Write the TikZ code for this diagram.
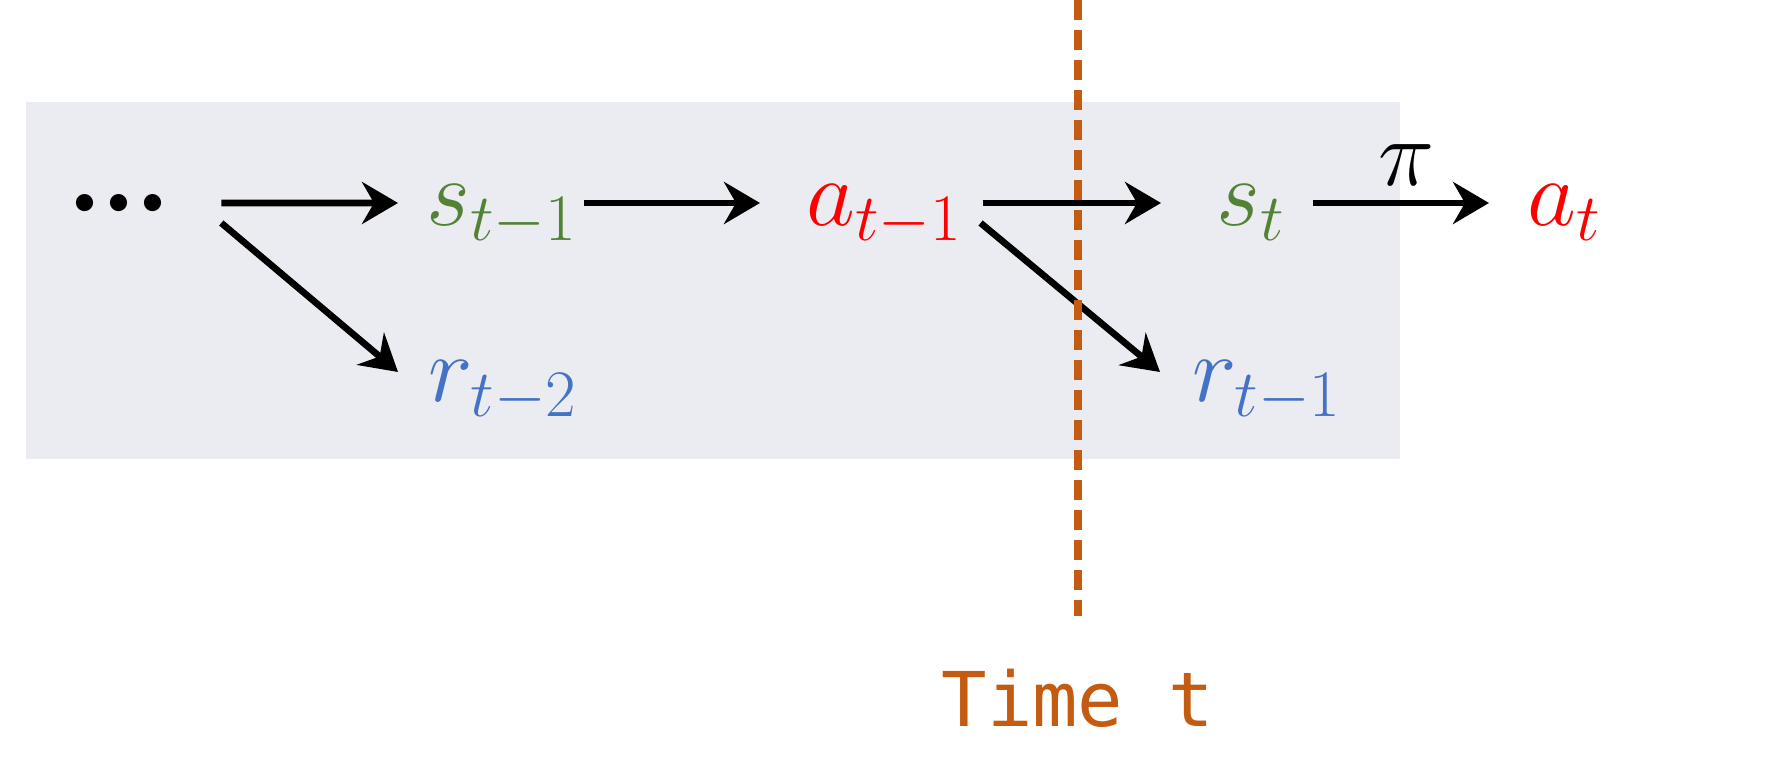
\RequirePackage{fix-cm}
\documentclass[tikz,border=0pt]{standalone}
\usepackage{fontspec}
\usepackage{tikz}
\usetikzlibrary{arrows.meta}

\definecolor{stategreen}{HTML}{548235}
\definecolor{actionred}{HTML}{FF0000}
\definecolor{rewardblue}{HTML}{4472C4}
\definecolor{timeorange}{HTML}{C55A11}
\definecolor{panelgray}{RGB}{235,236,241}
\newfontfamily\timefont{DejaVu Sans Mono}
\newcommand{\bigmath}{\fontsize{27}{32}\selectfont}
\newcommand{\dotsfont}{\fontsize{46}{50}\selectfont}

\begin{document}
\begin{tikzpicture}[
        symbol/.style={inner sep=0pt, text height=0.7cm, text depth=0.24cm, font=\bigmath},
        arr/.style={line width=1.9pt, -{Stealth[length=3.6mm, width=4.2mm, inset=1.2mm]}}
    ]
    \useasboundingbox (0,0) rectangle (17.66,7.68);
    \fill[panelgray] (0.26,3.085) rectangle (14.00,6.655);

    % trajectory
    \node[symbol, font=\dotsfont, text height=1.06cm, anchor=base] (ellip) at (1.19,5.24) {${\cdot}\mkern-1.2mu{\cdot}\mkern-1.2mu{\cdot}$};
    \node[symbol, anchor=base west, text=stategreen] (st1) at (4.26,5.42) {$s_{t-1}$};
    \node[symbol, anchor=base west, text=actionred] (at1) at (8.06,5.42) {$a_{t-1}$};
    \node[symbol, anchor=base west, text=stategreen] (st) at (12.16,5.42) {$s_{t}$};
    \node[symbol, anchor=base west, text=actionred] (at) at (15.27,5.42) {$a_{t}$};
    \node[symbol, anchor=base west, text=rewardblue] (rt2) at (4.28,3.66) {$r_{t-2}$};
    \node[symbol, anchor=base west, text=rewardblue] (rt1) at (11.92,3.66) {$r_{t-1}$};

    \draw[arr, shorten <=4.5mm, shorten >=2.8mm] (ellip.east) -- (st1.west);
    \draw[arr, shorten <=0.5mm, shorten >=4.6mm] (st1.east) -- (at1.west);
    \draw[arr, shorten <=1.9mm, shorten >=5.5mm] (at1.east) -- (st.west);
    \draw[arr, shorten <=2.7mm, shorten >=3.8mm] (st.east) -- (at.west)
        node[midway, above, inner sep=4pt, font=\bigmath] (pi) {$\pi$};
    \draw[arr] ([shift={(0.45,-0.20)}]ellip.east) -- ([shift={(-0.30,0.07)}]rt2.west);
    \draw[arr] ([shift={(0.17,-0.20)}]at1.east) -- ([shift={(-0.32,0.07)}]rt1.west);

    % time marker
    \node[anchor=base, text=timeorange, font=\timefont\fontsize{21.5}{25}\selectfont] (time) at (10.78,0.415) {Time t};
    \coordinate (top) at (10.78,7.68);
    \draw[timeorange, line width=2.3pt, dash pattern=on 2mm off 1mm] (top) -- ([yshift=4.1mm]time.north);
\end{tikzpicture}
\end{document}
